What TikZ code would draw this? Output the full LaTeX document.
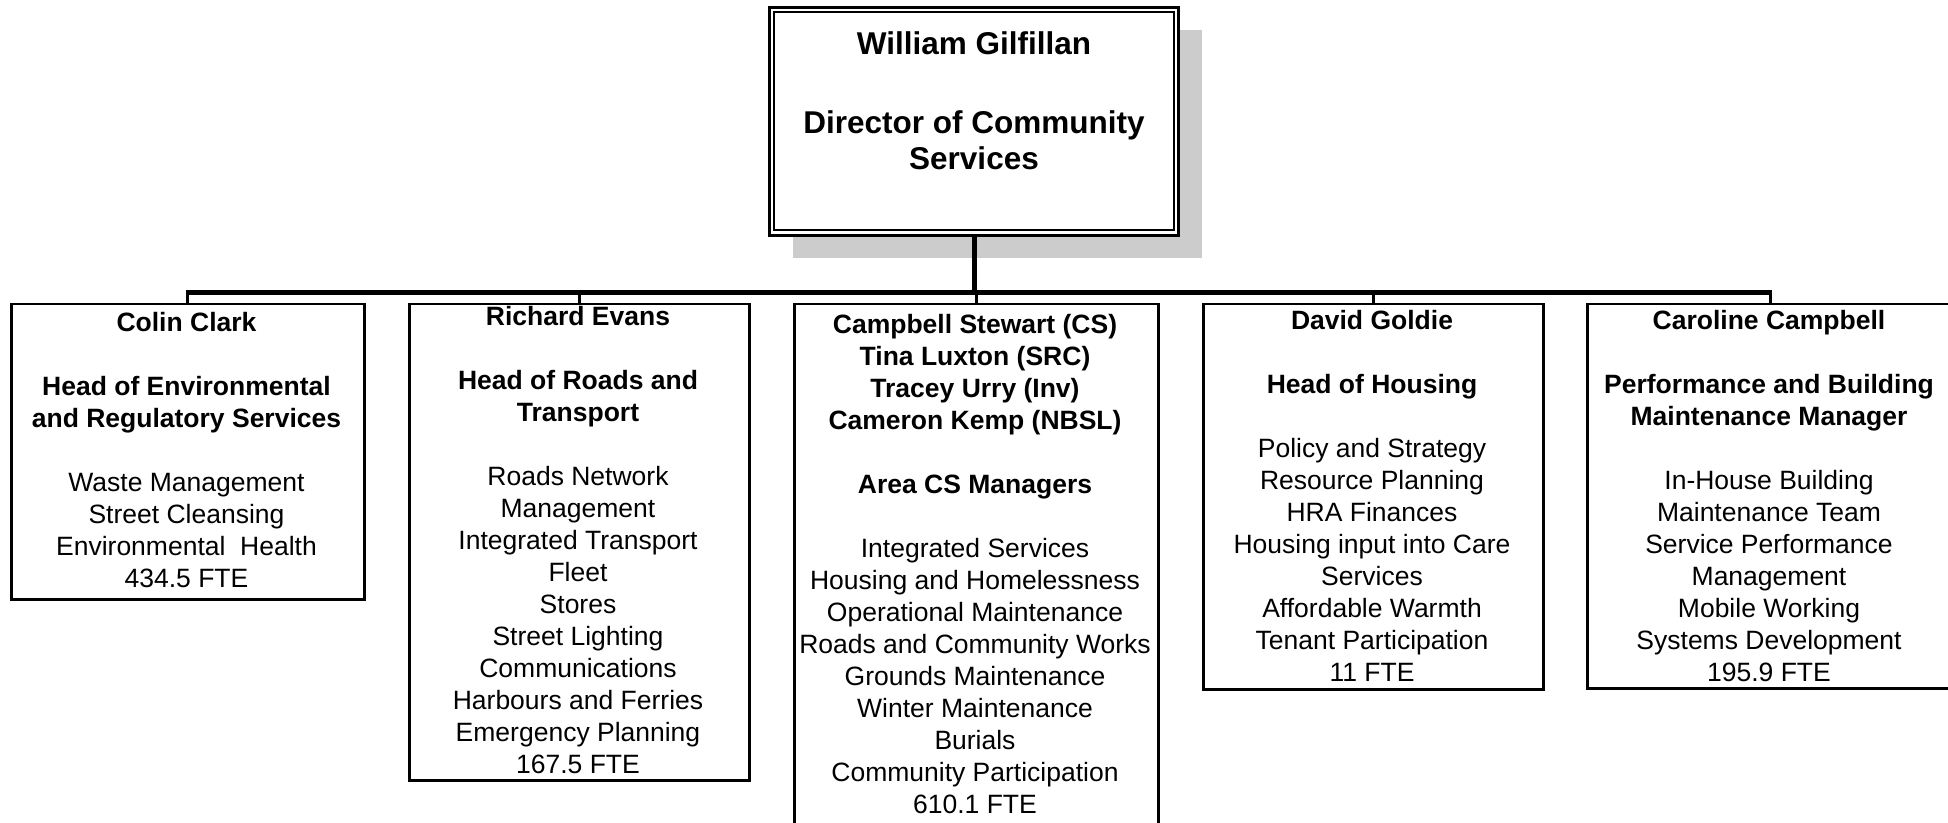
\documentclass[tikz,border=0pt]{standalone}
\usepackage{fontspec}
\setmainfont{Liberation Sans}
% invisible rule that fixes the height of the first line of each text block
\newcommand\leadstrut[1][22pt]{\rule{0pt}{#1}}
\begin{document}
\begin{tikzpicture}[x=1pt,y=-1pt,
  unitbox/.style={draw=black, line width=2.5pt, fill=white, inner sep=0pt,
    anchor=north west, minimum width=#1},
  textblock/.style={anchor=north, inner sep=0pt, align=center,
    font={\fontsize{26.5}{32}\selectfont}},
  headtext/.style={anchor=north, inner sep=0pt, align=center,
    font={\fontsize{31.5}{36}\selectfont\bfseries}},
  busline/.style={line width=5pt},
  tickline/.style={line width=3pt}
]
\useasboundingbox (0,0) rectangle (1948,822);
\clip (0,0) rectangle (1948,822);
\fill[white] (0,0) rectangle (1948,822);

% ---- director box with shadow and double frame
\node[draw=none, inner sep=0pt, anchor=north west, minimum width=409pt,
      minimum height=228pt] (dir) at (769.5,7) {};
\fill[black!20] ([shift={(23,23)}]dir.north west) rectangle ([shift={(23,23)}]dir.south east);
\filldraw[fill=white, draw=black, line width=3pt] (dir.north west) rectangle (dir.south east);
\draw[line width=2pt] ([shift={(4.5,5)}]dir.north west) rectangle ([shift={(-4.5,-5)}]dir.south east);
\node[headtext] (dirtext) at (974,28.5)
  {\leadstrut[26pt]William Gilfillan\\[43pt]
   Director of Community\\ Services};

% ---- unit boxes
\node[unitbox=353pt, minimum height=295.5pt] (colin)    at (10,302.5) {};
\node[unitbox=340pt, minimum height=476.5pt] (richard)  at (408,302.5) {};
\node[unitbox=364pt, minimum height=530pt]   (campbell) at (793,302.5) {};
\node[unitbox=340pt, minimum height=385.5pt] (david)    at (1202,302.5) {};
\node[unitbox=366pt, minimum height=384.5pt] (caroline) at (1586,302.5) {};

% ---- connectors
\coordinate (bus) at (0,292);
\draw[busline] (dir.south) -- (dir.south |- bus);
\draw[busline] ([xshift=-1.5pt]colin.north |- bus) -- ([xshift=1.5pt]caroline.north |- bus);
\foreach \u in {colin,richard,campbell,david,caroline}
  \draw[tickline] (\u.north |- bus) -- (\u.north);

% ---- box texts (blank lines are one extra 32pt line)
\node[textblock] (colintext) at (186.5,309)
  {\leadstrut\textbf{Colin Clark}\\[32pt]
   \textbf{Head of Environmental}\\
   \textbf{and Regulatory Services}\\[32pt]
   Waste Management\\
   Street Cleansing\\
   Environmental~ Health\\
   434.5 FTE};

\node[textblock] (richardtext) at (578,303)
  {\leadstrut\textbf{Richard Evans}\\[32pt]
   \textbf{Head of Roads and}\\
   \textbf{Transport}\\[32pt]
   Roads Network\\
   Management\\
   Integrated Transport\\
   Fleet\\
   Stores\\
   Street Lighting\\
   Communications\\
   Harbours and Ferries\\
   Emergency Planning\\
   167.5 FTE};

\node[textblock] (campbelltext) at (975,311)
  {\leadstrut\textbf{Campbell Stewart (CS)}\\
   \textbf{Tina Luxton (SRC)}\\
   \textbf{Tracey Urry (Inv)}\\
   \textbf{Cameron Kemp (NBSL)}\\[32pt]
   \textbf{Area CS Managers}\\[32pt]
   Integrated Services\\
   Housing and Homelessness\\
   Operational Maintenance\\
   Roads and Community Works\\
   Grounds Maintenance\\
   Winter Maintenance\\
   Burials\\
   Community Participation\\
   610.1 FTE};

\node[textblock] (davidtext) at (1372,307)
  {\leadstrut\textbf{David Goldie}\\[32pt]
   \textbf{Head of Housing}\\[32pt]
   Policy and Strategy\\
   Resource Planning\\
   HRA Finances\\
   Housing input into Care\\
   Services\\
   Affordable Warmth\\
   Tenant Participation\\
   11 FTE};

\node[textblock] (carolinetext) at (1769,307)
  {\leadstrut\textbf{Caroline Campbell}\\[32pt]
   \textbf{Performance and Building}\\
   \textbf{Maintenance Manager}\\[32pt]
   In-House Building\\
   Maintenance Team\\
   Service Performance\\
   Management\\
   Mobile Working\\
   Systems Development\\
   195.9 FTE};
\end{tikzpicture}
\end{document}
